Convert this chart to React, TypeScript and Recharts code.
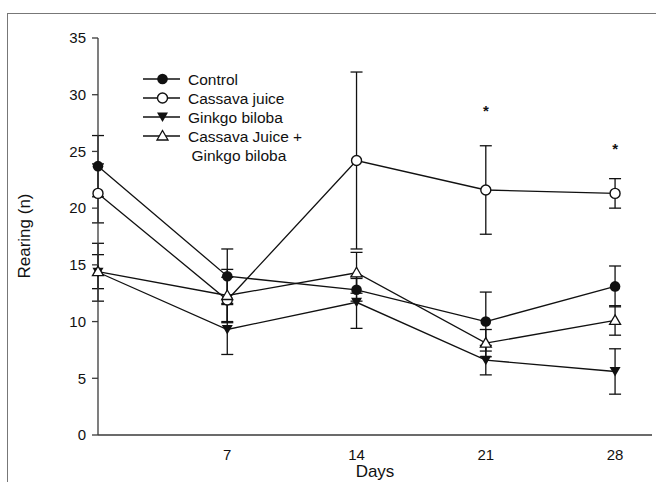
import React from 'react';
import { ComposedChart, Line, Scatter, XAxis, YAxis, ErrorBar, Label } from 'recharts';

const days = [0, 7, 14, 21, 28];
const control = [23.7, 14.0, 12.8, 10.0, 13.1];
const controlSem = [2.7, 2.4, 1.0, 2.6, 1.8];
const cassava = [21.3, 11.9, 24.2, 21.6, 21.3];
const cassavaSem = [2.6, 2.0, 7.8, 3.9, 1.3];
const ginkgo = [14.35, 9.3, 11.7, 6.6, 5.6];
const ginkgoSem = [2.55, 2.2, 2.3, 1.3, 2.0];
const combo = [14.4, 12.3, 14.3, 8.1, 10.1];
const comboSem = [1.5, 2.3, 1.8, 1.2, 1.3];

const dayTicks = [0, 5, 10, 15, 20, 25, 30];
const dayLabels = [7, 14, 21, 28];
const rearingTicks = [0, 5, 10, 15, 20, 25, 30, 35];

const starDays = [21, 28];
const starValues = [28.8, 25.5];

const ink = '#111';
const axisInk = '#3a3a3a';
const font = '"Liberation Sans", Arial, sans-serif';

const rows = days.map((day, i) => ({
  day,
  control: control[i],
  controlSem: controlSem[i],
  cassava: cassava[i],
  cassavaSem: cassavaSem[i],
  ginkgo: ginkgo[i],
  ginkgoSem: ginkgoSem[i],
  combo: combo[i],
  comboSem: comboSem[i]
}));

const stars = starDays.map((day, i) => ({ day, value: starValues[i] }));

const series = [
  { key: 'control', kind: 'dot', label: ['Control'] },
  { key: 'cassava', kind: 'ring', label: ['Cassava juice'] },
  { key: 'ginkgo', kind: 'down', label: ['Ginkgo biloba'] },
  { key: 'combo', kind: 'up', label: ['Cassava Juice +', 'Ginkgo biloba'] }
];

function Marker({ cx, cy, kind }: { cx: number; cy: number; kind: string }) {
  if (kind === 'dot') return <circle cx={cx} cy={cy} r={5.3} fill={ink} />;
  if (kind === 'ring')
    return <circle cx={cx} cy={cy} r={5} fill="#fff" stroke={ink} strokeWidth={1.4} />;
  if (kind === 'down')
    return (
      <polygon
        points={`${cx - 5.5},${cy - 4.5} ${cx + 5.5},${cy - 4.5} ${cx},${cy + 5}`}
        fill={ink} />);
  return (
    <polygon
      points={`${cx},${cy - 5.5} ${cx + 5.5},${cy + 4} ${cx - 5.5},${cy + 4}`}
      fill="#fff"
      stroke={ink}
      strokeWidth={1.3} />);
}

export default function App() {
  return (
    <div
      style={{
        position: 'fixed',
        left: 0,
        top: 0,
        width: 656,
        height: 482,
        overflow: 'hidden',
        background: '#fff',
        fontFamily: font
      }}>
      <div
        style={{
          position: 'absolute',
          left: 7,
          top: 13,
          width: 700,
          height: 500,
          borderLeft: '1px solid #777',
          borderTop: '1px solid #777'
        }} />
      <div style={{ position: 'absolute', left: 0, top: 0 }}>
        <ComposedChart
          width={656}
          height={482}
          data={rows}
          margin={{ top: 38, right: 4, left: 0, bottom: 0 }}>
          <XAxis
            dataKey="day"
            type="number"
            domain={[0, 30]}
            ticks={dayTicks}
            tick={false}
            tickSize={6}
            height={8}
            stroke={axisInk}
            strokeWidth={1.3} />
          <XAxis
            xAxisId="lbl"
            dataKey="day"
            type="number"
            domain={[0, 30]}
            ticks={dayLabels}
            axisLine={false}
            tickLine={false}
            tickSize={0}
            tickMargin={6}
            height={39}
            tick={{ fontSize: 15, fill: ink, fontFamily: font }}>
            <Label
              content={(p: any) =>
                <text
                  x={p.viewBox.x + p.viewBox.width / 2}
                  y={p.viewBox.y + 34}
                  textAnchor="middle"
                  fontSize={17}
                  fill={ink}
                  fontFamily={font}>
                  Days
                </text>
              } />
          </XAxis>
          <YAxis
            type="number"
            domain={[0, 35]}
            ticks={rearingTicks}
            width={98}
            tickSize={6}
            tickMargin={6}
            stroke={axisInk}
            strokeWidth={1.3}
            tick={{ fontSize: 15, fill: ink, fontFamily: font }}>
            <Label
              content={() =>
                <text
                  x={24}
                  y={236}
                  transform="rotate(-90 24 236)"
                  textAnchor="middle"
                  dominantBaseline="central"
                  fontSize={17}
                  fill={ink}
                  fontFamily={font}>
                  Rearing (n)
                </text>
              } />
          </YAxis>
          {series.map((s) =>
          <Line
            key={s.key}
            dataKey={s.key}
            type="linear"
            stroke={ink}
            strokeWidth={1.3}
            isAnimationActive={false}
            dot={(p: any) => <Marker key={`${s.key}-${p.index}`} cx={p.cx} cy={p.cy} kind={s.kind} />}
            activeDot={false}>
              <ErrorBar
                dataKey={`${s.key}Sem`}
                direction="y"
                width={6}
                stroke={ink}
                strokeWidth={1.3} />
            </Line>
          )}
          <Scatter
            data={stars}
            dataKey="value"
            isAnimationActive={false}
            shape={(p: any) =>
            <text x={p.cx} y={p.cy + 8} textAnchor="middle" fontSize={15} fontWeight="bold" fill={ink} fontFamily={font}>
                *
              </text>
            } />
        </ComposedChart>
      </div>
      <div
        style={{
          position: 'absolute',
          left: 143,
          top: 69.5,
          fontSize: 15.5,
          color: ink,
          lineHeight: '19px'
        }}>
        {series.map((s) =>
        <div key={s.key}>
            <div style={{ display: 'flex', alignItems: 'center', height: 19 }}>
              <svg width={45} height={14} style={{ display: 'block' }}>
                <line x1={0} x2={37} y1={7} y2={7} stroke={ink} strokeWidth={1.3} />
                <Marker cx={19.5} cy={7} kind={s.kind} />
              </svg>
              <span>{s.label[0]}</span>
            </div>
            {s.label.slice(1).map((t) =>
          <div key={t} style={{ paddingLeft: 48.5, height: 19 }}>
                {t}
              </div>
          )}
          </div>
        )}
      </div>
    </div>);
}
